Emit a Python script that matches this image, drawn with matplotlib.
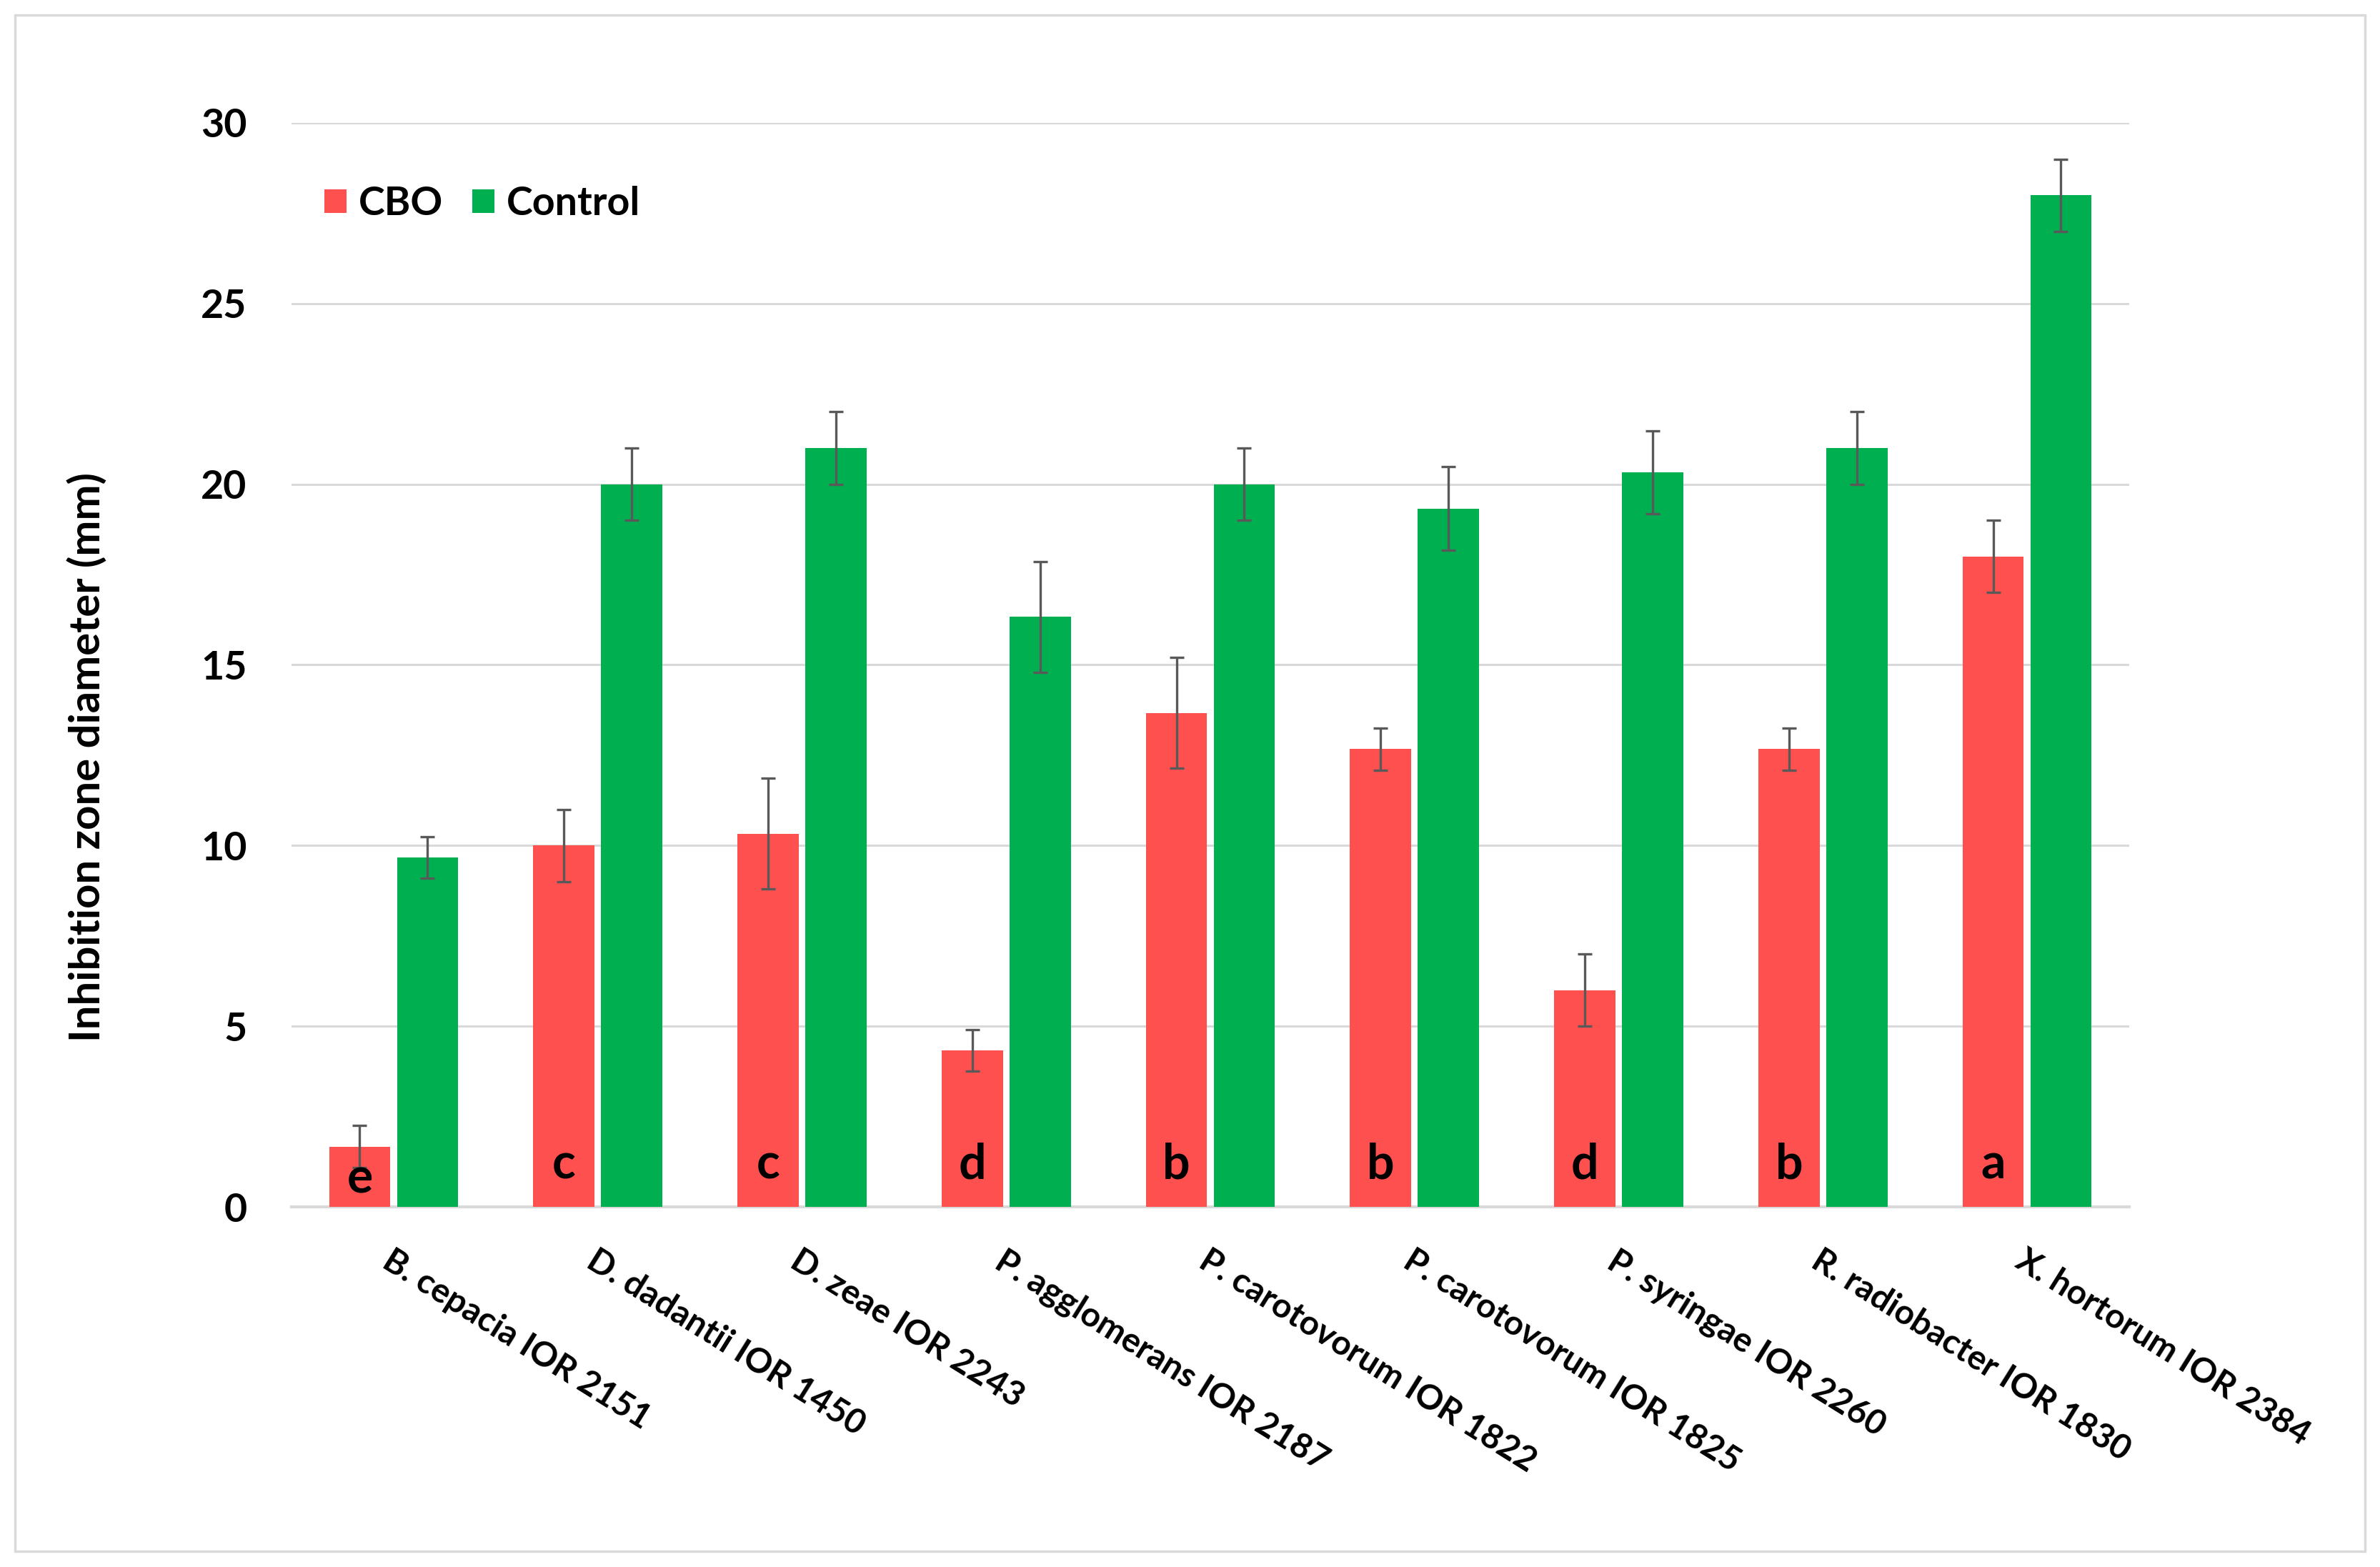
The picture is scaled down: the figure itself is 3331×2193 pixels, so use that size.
import matplotlib
matplotlib.use("Agg")
import matplotlib.pyplot as plt
from matplotlib.patches import Rectangle
import numpy as np

# strains and measured inhibition zones (mm), mean and error
strains = ["B. cepacia IOR 2151", "D. dadantii IOR 1450", "D. zeae IOR 2243",
           "P. agglomerans IOR 2187", "P. carotovorum IOR 1822",
           "P. carotovorum IOR 1825", "P. syringae IOR 2260",
           "R. radiobacter IOR 1830", "X. hortorum IOR 2384"]
cbo = [1.67, 10.0, 10.33, 4.33, 13.67, 12.67, 6.0, 12.67, 18.0]
cbo_err = [0.58, 1.0, 1.53, 0.58, 1.53, 0.58, 1.0, 0.58, 1.0]
control = [9.67, 20.0, 21.0, 16.33, 20.0, 19.33, 20.33, 21.0, 28.0]
control_err = [0.58, 1.0, 1.0, 1.53, 1.0, 1.15, 1.15, 1.0, 1.0]
letters = ["e", "c", "c", "d", "b", "b", "d", "b", "a"]

RED = "#FF5050"
GREEN = "#00B050"
GRID = "#D9D9D9"
ERR = "#595959"

plt.rcParams['font.family'] = ['Lato', 'DejaVu Sans']
plt.rcParams['font.weight'] = 'bold'

fig = plt.figure(figsize=(33.31, 21.93), dpi=100)
ax = fig.add_axes([0.1225, 0.2298, 0.7721, 0.6918])

x = np.arange(len(strains))
w = 0.30
off = 0.166

err_kw = dict(ecolor=ERR, elinewidth=2.4, capsize=7.5, capthick=2.4)
ax.bar(x - off, cbo, w, color=RED, label="CBO", zorder=2)
ax.bar(x + off, control, w, color=GREEN, label="Control", zorder=2)
ax.errorbar(x - off, cbo, yerr=cbo_err, fmt='none', zorder=3, **err_kw)
ax.errorbar(x + off, control, yerr=control_err, fmt='none', zorder=3, **err_kw)

# significance letters at the base of CBO bars
for xi, v, lab in zip(x, cbo, letters):
    ax.text(xi - off, min(0.78, v * 0.23), lab, ha='center', va='baseline',
            fontsize=49, fontweight='bold', color='black', zorder=4)

ax.set_xlim(-0.5, len(strains) - 0.5)
ax.set_ylim(0, 30)
ax.set_yticks(np.arange(0, 31, 5))
ax.yaxis.grid(True, color=GRID, linewidth=2.2, zorder=0)
ax.set_axisbelow(True)
for s in ['top', 'right', 'left']:
    ax.spines[s].set_visible(False)
ax.spines['bottom'].set_color(GRID)
ax.spines['bottom'].set_linewidth(3)
ax.spines['bottom'].set_zorder(1)

ax.tick_params(axis='y', length=0, pad=45, labelsize=40)
ax.tick_params(axis='x', length=0, pad=38, labelsize=34.5)
ax.set_xticks(x)
ax.set_xticklabels(strains, rotation=-32, ha='left', va='top',
                   rotation_mode='anchor', fontweight='bold')
for t in ax.get_yticklabels():
    t.set_fontweight('bold')

ax.set_ylabel("Inhibition zone diameter (mm)", fontsize=43, fontweight='bold')
ax.yaxis.set_label_coords(-0.1, 0.415)

leg = ax.legend(loc='upper left', bbox_to_anchor=(0.018, 0.942), ncol=2,
                frameon=False, fontsize=40, handlelength=0.55, handleheight=0.55,
                handletextpad=0.3, columnspacing=0.75, borderpad=0, borderaxespad=0)
for t in leg.get_texts():
    t.set_fontweight('bold')

# light frame around the whole chart
fig.patches.append(Rectangle((21 / 3331, 1 - 2171 / 2193), (3310 - 21) / 3331,
                             (2171 - 21) / 2193, transform=fig.transFigure,
                             fill=False, edgecolor=GRID, linewidth=2.5))

fig.savefig("out.png", dpi=100, facecolor='white')
